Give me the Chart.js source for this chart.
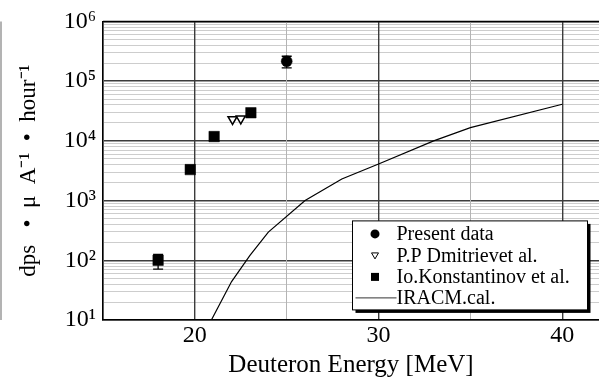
<!DOCTYPE html>
<html>
<head>
<meta charset="utf-8">
<script src="https://cdn.jsdelivr.net/npm/chart.js@4.4.1/dist/chart.umd.min.js"></script>
<style>
html,body{margin:0;padding:0;background:#fff;}
#c{display:block;}
</style>
</head>
<body>
<canvas id="c" width="599" height="380"></canvas>
<script>
// ---- data ----
const seriesNames = ['Present data', 'P.P Dmitrievet al.', 'Io.Konstantinov et al.', 'IRACM.cal.'];
const presentX = [25];
const presentY = [2.15e5];
const presentErrLo = [1.67e5];
const presentErrHi = [2.61e5];
const dmitrievX = [22.05, 22.5];
const dmitrievY = [2.3e4, 2.35e4];
const konstX = [18, 19.75, 21.05, 23.05];
const konstY = [100, 3300, 11800, 29500];
const konstErrLo = [71, null, null, null];
const konstErrHi = [126, null, null, null];
const iracmX = [20.9, 22, 23, 24, 26, 28, 30, 33, 35, 40];
const iracmY = [10, 44, 121, 296, 1000, 2300, 4100, 10000, 16600, 41000];
const xTicks = [15, 20, 25, 30, 35, 40];
const xTickLabels = ['', '20', '', '30', '', '40'];
const yDecades = [10, 100, 1000, 10000, 100000, 1000000];
const yTickLabels = ['10\u00B9', '10\u00B2', '10\u00B3', '10\u2074', '10\u2075', '10\u2076'];
const xTitle = 'Deuteron Energy [MeV]';
const yTitle = 'dps   \u2022  \u03BC  A\u207B\u00B9  \u2022  hour\u207B\u00B9';

const FONT = "'Liberation Serif', 'Times New Roman', serif";
const pts = (xs, ys) => xs.map((x, i) => ({x: x, y: ys[i]}));

const yTickVals = [];
yDecades.forEach((d, i) => {
  yTickVals.push(d);
  if (i < yDecades.length - 1) for (let k = 2; k <= 9; k++) yTickVals.push(d * k);
});

const extras = {
  id: 'extras',
  beforeDatasetsDraw(chart) {
    const ctx = chart.ctx, xs = chart.scales.x, ys = chart.scales.y;
    ctx.save();
    ctx.strokeStyle = '#000';
    ctx.lineWidth = 1.3;
    const bars = (X, lo, hi) => X.forEach((x, i) => {
      if (lo[i] == null) return;
      const px = xs.getPixelForValue(x), p1 = ys.getPixelForValue(lo[i]), p2 = ys.getPixelForValue(hi[i]);
      ctx.beginPath();
      ctx.moveTo(px, p1); ctx.lineTo(px, p2);
      ctx.moveTo(px - 5, p1); ctx.lineTo(px + 5, p1);
      ctx.moveTo(px - 5, p2); ctx.lineTo(px + 5, p2);
      ctx.stroke();
    });
    bars(presentX, presentErrLo, presentErrHi);
    bars(konstX, konstErrLo, konstErrHi);
    ctx.restore();
  },
  afterDraw(chart) {
    const ctx = chart.ctx, a = chart.chartArea;
    ctx.save();
    // outer grey line on the left
    ctx.strokeStyle = '#9a9a9a';
    ctx.lineWidth = 1.5;
    ctx.beginPath(); ctx.moveTo(1, a.top); ctx.lineTo(1, a.bottom); ctx.stroke();
    // top frame
    ctx.strokeStyle = '#000';
    ctx.lineWidth = 1.5;
    ctx.beginPath(); ctx.moveTo(a.left, a.top); ctx.lineTo(a.right, a.top); ctx.stroke();

    // legend
    const L = a.left + 249.5, T = a.top + 199.5, W = 235, H = 89;
    ctx.fillStyle = '#000';
    ctx.fillRect(L + 3, T + 3, W, H);
    ctx.fillStyle = '#fff';
    ctx.fillRect(L, T, W, H);
    ctx.strokeStyle = '#000';
    ctx.lineWidth = 1;
    ctx.strokeRect(L, T, W, H);
    const mx = L + 22.5, tx = L + 44;
    const rowY = [T + 13, T + 34.5, T + 56, T + 77];
    ctx.font = '20px ' + FONT;
    ctx.textBaseline = 'middle';
    ctx.textAlign = 'left';
    seriesNames.forEach((n, i) => {
      ctx.fillStyle = '#000';
      ctx.fillText(n, tx, rowY[i] + 1);
    });
    // markers
    ctx.fillStyle = '#000';
    ctx.beginPath(); ctx.arc(mx, rowY[0], 4.5, 0, Math.PI * 2); ctx.fill();
    ctx.beginPath();
    ctx.moveTo(mx - 3.5, rowY[1] - 2.5); ctx.lineTo(mx + 3.5, rowY[1] - 2.5); ctx.lineTo(mx, rowY[1] + 3.5); ctx.closePath();
    ctx.lineWidth = 1; ctx.stroke();
    ctx.fillRect(mx - 4, rowY[2] - 4, 8, 8);
    ctx.beginPath(); ctx.moveTo(L + 3, rowY[3]); ctx.lineTo(tx, rowY[3]); ctx.lineWidth = 1; ctx.strokeStyle = '#333'; ctx.stroke();
    ctx.restore();
  }
};

new Chart(document.getElementById('c'), {
  type: 'scatter',
  data: {
    datasets: [
      {label: seriesNames[3], data: pts(iracmX, iracmY), showLine: true, borderColor: '#000', borderWidth: 1.2, pointRadius: 0, tension: 0, fill: false},
      {label: seriesNames[2], data: pts(konstX, konstY), pointStyle: 'rect', pointRadius: 7.4, backgroundColor: '#000', borderColor: '#000', borderWidth: 0.5},
      {label: seriesNames[1], data: pts(dmitrievX, dmitrievY), pointStyle: 'triangle', rotation: 180, pointRadius: 5.2, backgroundColor: '#fff', borderColor: '#000', borderWidth: 1.5},
      {label: seriesNames[0], data: pts(presentX, presentY), pointStyle: 'circle', pointRadius: 5.5, backgroundColor: '#000', borderColor: '#000', borderWidth: 0.5}
    ]
  },
  options: {
    responsive: false,
    animation: false,
    events: [],
    layout: {autoPadding: false, padding: {top: 20, right: 0, left: 0, bottom: 0}},
    plugins: {legend: {display: false}, tooltip: {enabled: false}},
    scales: {
      x: {
        type: 'linear', min: 15, max: 42,
        afterBuildTicks: s => { s.ticks = xTicks.map(v => ({value: v})); },
        afterFit: s => { s.height = 60; s.paddingRight = 0; s.paddingLeft = 0; },
        ticks: {
          autoSkip: false, maxRotation: 0, padding: 1, color: '#000',
          font: {family: FONT, size: 24},
          callback: (v) => { const i = xTicks.indexOf(v); return i >= 0 ? xTickLabels[i] : ''; }
        },
        grid: {
          drawTicks: false, z: -1,
          color: c => (c.tick && c.tick.value % 10 === 0) ? '#3c3c3c' : '#b4b4b4',
          lineWidth: c => (c.tick && c.tick.value % 10 === 0) ? 1.4 : 1
        },
        border: {display: true, color: '#000', width: 1.5},
        title: {display: true, text: xTitle, color: '#000', font: {family: FONT, size: 25}, padding: {top: 3, bottom: 0}}
      },
      y: {
        type: 'logarithmic', min: 10, max: 1e6,
        afterBuildTicks: s => { s.ticks = yTickVals.map(v => ({value: v})); },
        afterFit: s => { s.width = 103; },
        ticks: {
          autoSkip: false, padding: 7, color: '#000',
          font: {family: FONT, size: 24},
          callback: (v) => { const i = yDecades.indexOf(v); return i >= 0 ? yTickLabels[i] : ''; }
        },
        grid: {
          drawTicks: false, z: -2,
          color: c => (c.tick && yDecades.indexOf(c.tick.value) >= 0) ? '#3c3c3c' : '#cdcdcd',
          lineWidth: c => (c.tick && yDecades.indexOf(c.tick.value) >= 0) ? 1.4 : 1
        },
        border: {display: true, color: '#000', width: 1.5},
        title: {display: true, text: yTitle, color: '#000', font: {family: FONT, size: 23}, padding: {top: 15, bottom: 0}}
      }
    }
  },
  plugins: [extras]
});
</script>
</body>
</html>
